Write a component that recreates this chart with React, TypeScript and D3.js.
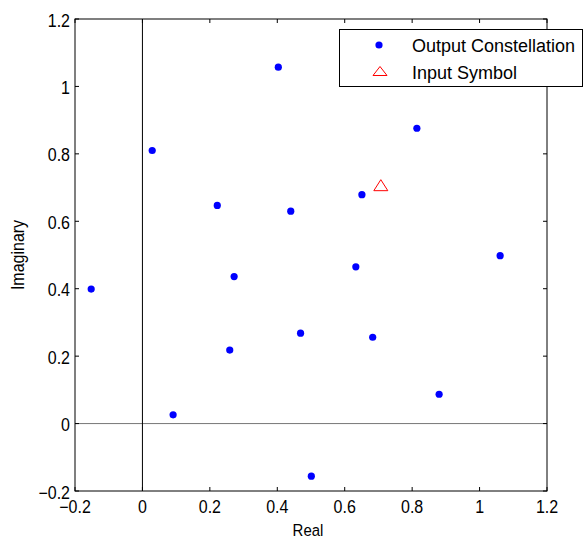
import React from "react";
import * as d3 from "d3";

const outputReal = [-0.152, 0.029, 0.403, 0.222, 0.44, 0.814, 0.651, 1.061, 0.633, 0.272, 0.259, 0.469, 0.091, 0.501, 0.683, 0.88];
const outputImag = [0.399, 0.81, 1.057, 0.647, 0.63, 0.876, 0.679, 0.498, 0.465, 0.436, 0.218, 0.268, 0.026, -0.156, 0.256, 0.087];
const inputReal = [0.7071];
const inputImag = [0.7071];
const xTicks = [-0.2, 0, 0.2, 0.4, 0.6, 0.8, 1, 1.2];
const yTicks = [-0.2, 0, 0.2, 0.4, 0.6, 0.8, 1, 1.2];
const legendLabels = ["Output Constellation", "Input Symbol"];

const W = 584, H = 539;
const L = 75, R = 547, T = 19, B = 491;
const FONT = "Arial, 'Liberation Sans', Helvetica, sans-serif";

function fmt(v: number) {
  return d3.format("~g")(+v.toFixed(2));
}

function tri(cx: number, cy: number, w: number, h: number) {
  return `M${cx},${cy - h / 2} L${cx + w / 2},${cy + h / 2} L${cx - w / 2},${cy + h / 2} Z`;
}

function SText(props: { x: number; y: number; sy: number; size: number; anchor?: string; children: any; rotate?: number }) {
  const { x, y, sy, size, anchor, children, rotate } = props;
  return (
    <text
      transform={`translate(${x},${y}) rotate(${rotate || 0}) scale(1,${sy})`}
      fontSize={size}
      textAnchor={anchor || "start"}
      fill="#000"
    >
      {children}
    </text>
  );
}

export default function App() {
  const x = d3.scaleLinear().domain([-0.2, 1.2]).range([L, R]);
  const y = d3.scaleLinear().domain([-0.2, 1.2]).range([B, T]);
  const tk = 4;
  return (
    <svg width={W} height={H} style={{ position: "absolute", left: 0, top: 0, background: "#fff" }} fontFamily={FONT}>
      <rect x={0} y={0} width={W} height={H} fill="#fff" />
      {/* zero lines */}
      <line x1={L} x2={R} y1={y(0)} y2={y(0)} stroke="#777" strokeWidth={1} />
      <line x1={x(0)} x2={x(0)} y1={T} y2={B} stroke="#000" strokeWidth={1} />
      {/* ticks */}
      {xTicks.map((t, i) => (
        <g key={"xt" + i}>
          <line x1={x(t)} x2={x(t)} y1={B} y2={B - tk} stroke="#000" />
          <line x1={x(t)} x2={x(t)} y1={T} y2={T + tk} stroke="#000" />
          <SText x={x(t)} y={B + 22} sy={1.1} size={16} anchor="middle">{fmt(t)}</SText>
        </g>
      ))}
      {yTicks.map((t, i) => (
        <g key={"yt" + i}>
          <line x1={L} x2={L + tk} y1={y(t)} y2={y(t)} stroke="#000" />
          <line x1={R} x2={R - tk} y1={y(t)} y2={y(t)} stroke="#000" />
          <SText x={L - 5} y={y(t) + 7.5} sy={1.1} size={16} anchor="end">{fmt(t)}</SText>
        </g>
      ))}
      {/* box */}
      <rect x={L} y={T} width={R - L} height={B - T} fill="none" stroke="#000" strokeWidth={1} />
      {/* data */}
      {outputReal.map((v, i) => (
        <circle key={"p" + i} cx={x(v)} cy={y(outputImag[i])} r={3.6} fill="#0000ff" />
      ))}
      {inputReal.map((v, i) => (
        <path key={"t" + i} d={tri(x(v), y(inputImag[i]), 14, 11)} fill="none" stroke="#ff0000" strokeWidth={1} />
      ))}
      {/* axis labels */}
      <SText x={(L + R) / 2 - 3} y={536} sy={1.15} size={15} anchor="middle">Real</SText>
      <SText x={24} y={(T + B) / 2} sy={1.1} size={16} anchor="middle" rotate={-90}>Imaginary</SText>
      {/* legend */}
      <rect x={339.5} y={29.5} width={243} height={57} fill="#fff" stroke="#000" strokeWidth={1} />
      <circle cx={379} cy={45} r={3.6} fill="#0000ff" />
      <text x={412} y={52} fontSize={18} fill="#000">{legendLabels[0]}</text>
      <path d={tri(380, 71, 14, 9)} fill="none" stroke="#ff0000" strokeWidth={1} />
      <text x={412} y={79} fontSize={18} fill="#000">{legendLabels[1]}</text>
    </svg>
  );
}
